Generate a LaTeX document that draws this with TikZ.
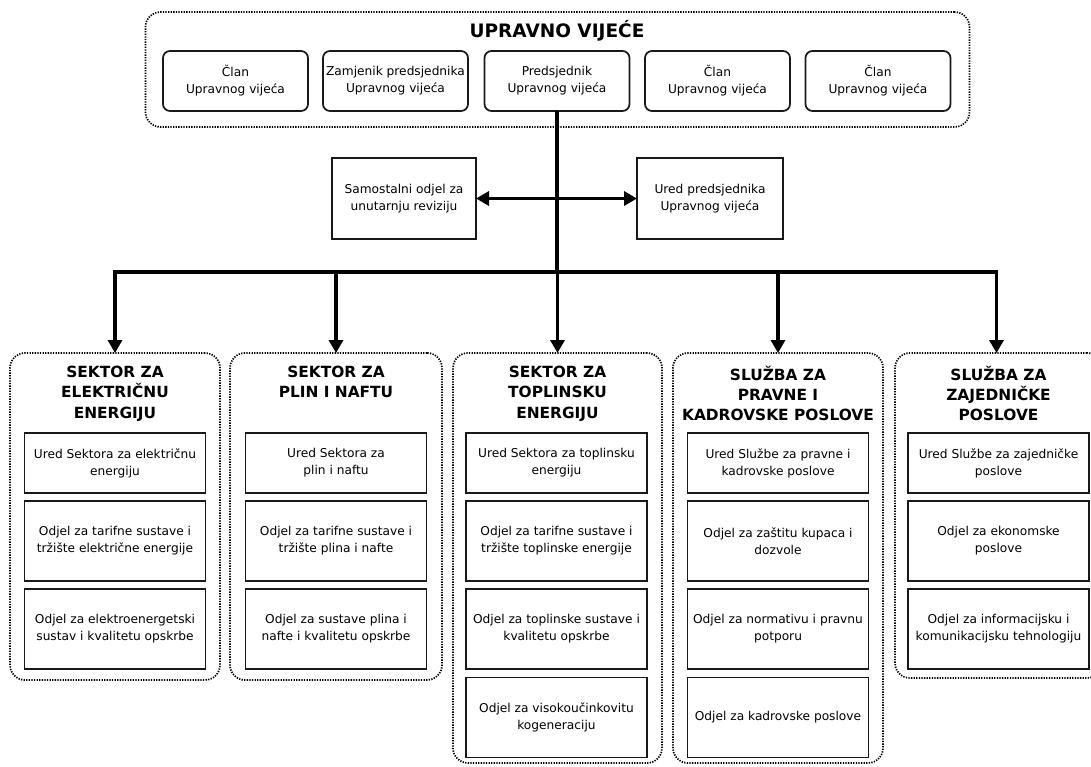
\documentclass[tikz,border=0pt]{standalone}
\usepackage{fontspec}
\setmainfont{DejaVu Sans}
\usetikzlibrary{arrows.meta}
\begin{document}
\begin{tikzpicture}[x=1pt,y=-1pt,
  every node/.style={inner sep=0pt,outer sep=0pt},
  smalltxt/.style={font=\fontsize{12.2}{17}\selectfont,align=center,text=black},
  container/.style={draw=black,line width=1.7pt,dash pattern=on 1.3pt off 1.3pt,rounded corners=15pt},
  member/.style={draw=black!90,line width=1.7pt,rounded corners=7pt,minimum width=145pt,minimum height=60pt,smalltxt},
  midbox/.style={draw=black!90,line width=1.7pt,minimum height=81pt,smalltxt},
  unit/.style={draw=black!90,line width=1.7pt,minimum width=181pt,smalltxt},
  title/.style={font=\fontsize{15.4}{20.3}\selectfont\bfseries,align=center,anchor=north},
  bigtitle/.style={font=\fontsize{18.5}{20}\selectfont\bfseries},
  link/.style={line width=3.6pt,draw=black},
  arr/.style={line width=3.6pt,draw=black,-{Triangle[length=13pt,width=14pt]}}
]
\useasboundingbox (0,0) rectangle (1091,767);

% Upravno vijece
\node[container,minimum width=824pt,minimum height=115pt] (board) at (557.5,69.5) {};
\node[bigtitle] (boardt) at (557,31) {UPRAVNO VIJEĆE};
\node[member] (m1) at (235.5,81) {Član\\Upravnog vijeća};
\node[member] (m2) at (395.5,81) {Zamjenik predsjednika\\Upravnog vijeća};
\node[member] (pred) at (557,81) {Predsjednik\\Upravnog vijeća};
\node[member] (m4) at (717.5,81) {Član\\Upravnog vijeća};
\node[member] (m5) at (878,81) {Član\\Upravnog vijeća};

% middle boxes
\node[midbox,minimum width=144pt] (audit) at (404,198.5) {Samostalni odjel za\\unutarnju reviziju};
\node[midbox,minimum width=146pt] (ured) at (710,198.5) {Ured predsjednika\\Upravnog vijeća};

% sector containers
\node[container,minimum width=210pt,minimum height=327pt] (s1) at (115,516.5) {};
\node[container,minimum width=212pt,minimum height=327pt] (s2) at (336,516.5) {};
\node[container,minimum width=209pt,minimum height=410pt] (s3) at (557.5,558) {};
\node[container,minimum width=210pt,minimum height=410pt] (s4) at (778,558) {};
\node[container,minimum width=207pt,minimum height=325pt] (s5) at (998.5,515.5) {};

% titles
\node[title] (t1) at (115,366) {SEKTOR ZA\\ELEKTRIČNU\\ENERGIJU};
\node[title] (t2) at (336,366) {SEKTOR ZA\\PLIN I NAFTU};
\node[title] (t3) at (557.5,366) {SEKTOR ZA\\TOPLINSKU\\ENERGIJU};
\node[title] (t4) at (778,366) {SLUŽBA ZA\\PRAVNE I\\KADROVSKE POSLOVE};
\node[title] (t5) at (998.5,366) {SLUŽBA ZA\\ZAJEDNIČKE\\POSLOVE};

% units column 1
\node[unit,minimum height=60pt] (u11) at (115,463) {Ured Sektora za električnu\\energiju};
\node[unit,minimum height=80pt] (u12) at (115,541) {Odjel za tarifne sustave i\\tržište električne energije};
\node[unit,minimum height=80pt] (u13) at (115,629) {Odjel za elektroenergetski\\sustav i kvalitetu opskrbe};
% column 2
\node[unit,minimum height=60pt] (u21) at (336,463) {Ured Sektora za\\plin i naftu};
\node[unit,minimum height=80pt] (u22) at (336,541) {Odjel za tarifne sustave i\\tržište plina i nafte};
\node[unit,minimum height=80pt] (u23) at (336,629) {Odjel za sustave plina i\\nafte i kvalitetu opskrbe};
% column 3
\node[unit,minimum height=60pt] (u31) at (556.5,463) {Ured Sektora za toplinsku\\energiju};
\node[unit,minimum height=80pt] (u32) at (556.5,541) {Odjel za tarifne sustave i\\tržište toplinske energije};
\node[unit,minimum height=80pt] (u33) at (556.5,629) {Odjel za toplinske sustave i\\kvalitetu opskrbe};
\node[unit,minimum height=80pt] (u34) at (556.5,717.5) {Odjel za visokoučinkovitu\\kogeneraciju};
% column 4
\node[unit,minimum height=60pt] (u41) at (778,463) {Ured Službe za pravne i\\kadrovske poslove};
\node[unit,minimum height=80pt] (u42) at (778,541) {Odjel za zaštitu kupaca i\\dozvole};
\node[unit,minimum height=80pt] (u43) at (778,629) {Odjel za normativu i pravnu\\potporu};
\node[unit,minimum height=80pt] (u44) at (778,717.5) {Odjel za kadrovske poslove};
% column 5
\node[unit,minimum height=60pt] (u51) at (998.5,463) {Ured Službe za zajedničke\\poslove};
\node[unit,minimum height=80pt] (u52) at (998.5,541) {Odjel za ekonomske\\poslove};
\node[unit,minimum height=80pt] (u53) at (998.5,629) {Odjel za informacijsku i\\komunikacijsku tehnologiju};

% connectors
\coordinate (mid) at (557,198.5);
\coordinate (bus) at (557,272);
\draw[link] (pred.south) -- (bus);
\draw[arr] (mid) -- (audit.east);
\draw[arr] (mid) -- (ured.west);
\draw[link,line cap=rect] (s1.north |- bus) -- ([xshift=-2pt]s5.north |- bus);
\draw[arr] (s1.north |- bus) -- (s1.north);
\draw[arr] (s2.north |- bus) -- (s2.north);
\draw[arr] (s3.north |- bus) -- (s3.north);
\draw[arr] (s4.north |- bus) -- (s4.north);
\draw[arr] ([xshift=-2pt]s5.north |- bus) -- ([xshift=-2pt]s5.north);
\end{tikzpicture}
\end{document}
